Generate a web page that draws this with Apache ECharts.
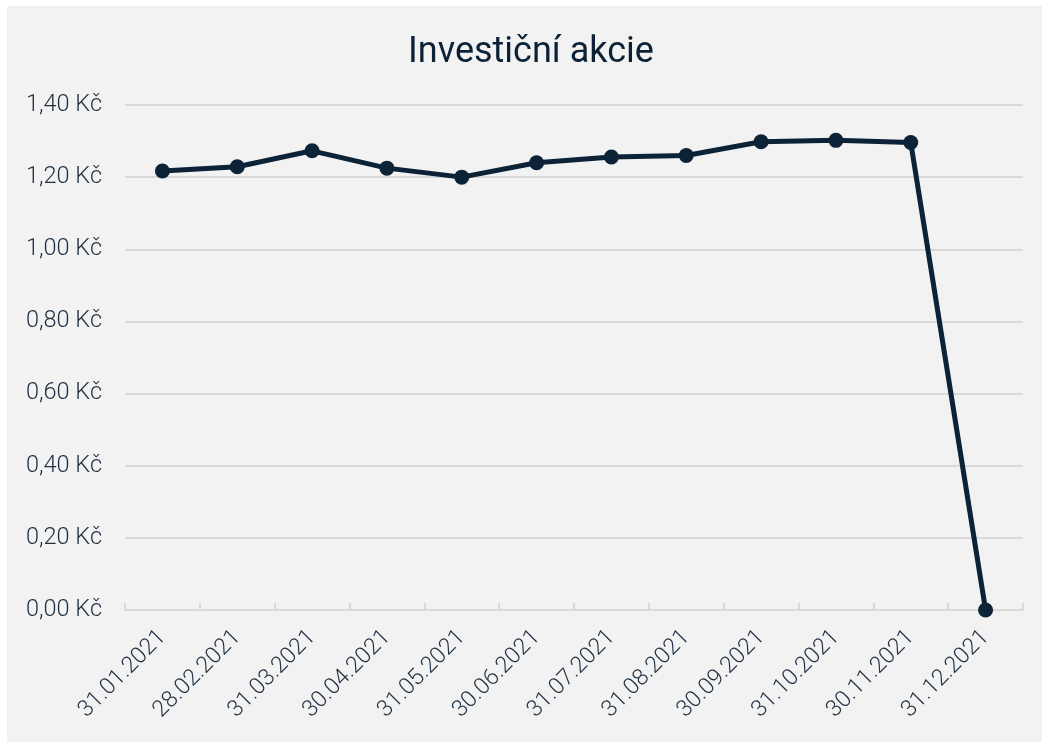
<!DOCTYPE html>
<html>
<head>
<meta charset="utf-8">
<script src="https://cdn.jsdelivr.net/npm/echarts@6/dist/echarts.min.js"></script>
<style>
html,body{margin:0;padding:0;background:#ffffff;}
#c{position:absolute;left:7px;top:6px;width:1035px;height:736px;background:#f2f2f2;}
</style>
</head>
<body>
<div id="c"></div>
<script>
const categories = ['31.01.2021','28.02.2021','31.03.2021','30.04.2021','31.05.2021','30.06.2021','31.07.2021','31.08.2021','30.09.2021','31.10.2021','30.11.2021','31.12.2021'];
const values = [1.217, 1.229, 1.273, 1.225, 1.200, 1.240, 1.256, 1.260, 1.298, 1.302, 1.296, 0];
const yTicks = [0, 0.2, 0.4, 0.6, 0.8, 1.0, 1.2, 1.4];

const chart = echarts.init(document.getElementById('c'), null, {renderer:'canvas'});
const textColor = '#1e2f42';
chart.setOption({
  backgroundColor: '#f2f2f2',
  title: {
    text: 'Investiční akcie',
    left: 401,
    top: 29,
    padding: 0,
    textStyle: {fontFamily: 'Roboto', fontSize: 36, fontWeight: 'normal', color: '#0d2136'}
  },
  grid: {left: 118, right: 19, top: 99, bottom: 132, containLabel: false},
  xAxis: {
    type: 'category',
    data: categories,
    boundaryGap: true,
    axisLine: {show: true, lineStyle: {color: '#d9d9d9', width: 2}},
    axisTick: {show: true, inside: true, length: 7, lineStyle: {color: '#d9d9d9', width: 2}},
    axisLabel: {rotate: 45, margin: 24, fontFamily: 'Roboto', fontWeight: 300, fontSize: 23, color: textColor, interval: 0}
  },
  yAxis: {
    type: 'value',
    min: yTicks[0],
    max: yTicks[yTicks.length - 1],
    interval: 0.2,
    axisLine: {show: false},
    axisTick: {show: false},
    splitLine: {lineStyle: {color: '#d9d9d9', width: 2}},
    axisLabel: {
      margin: 23,
      fontFamily: 'Roboto', fontWeight: 300, fontSize: 23.5, color: textColor,
      formatter: v => v.toFixed(2).replace('.', ',') + ' Kč'
    }
  },
  series: [{
    type: 'line',
    data: values,
    symbol: 'circle',
    symbolSize: 15,
    lineStyle: {color: '#0c2237', width: 5},
    itemStyle: {color: '#0c2237'},
    animation: false
  }],
  animation: false
});
</script>
</body>
</html>
